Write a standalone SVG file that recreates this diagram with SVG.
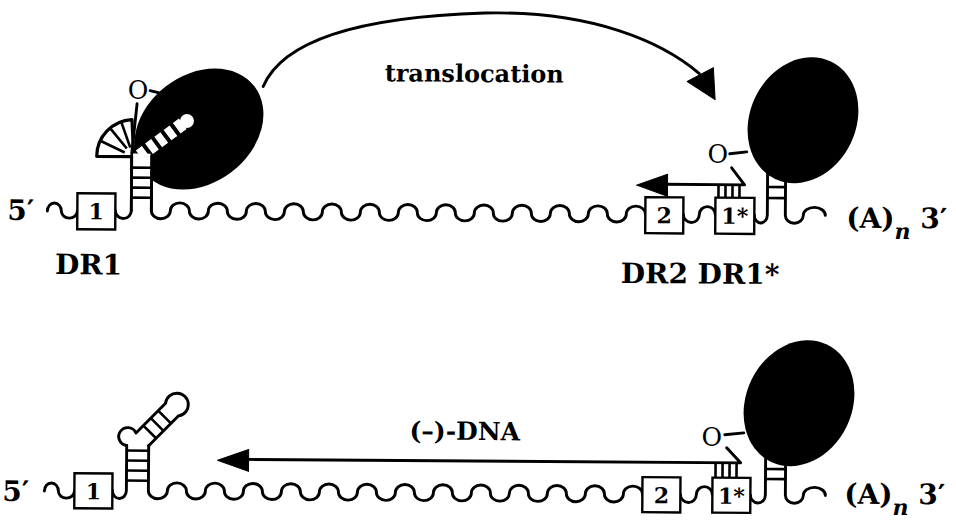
<svg xmlns="http://www.w3.org/2000/svg" width="956" height="520" viewBox="0 0 956 520">
<defs>
<style>
.ln{fill:none;stroke:#000;stroke-width:2.9;stroke-linecap:round;stroke-linejoin:round}
.rung{fill:none;stroke:#000;stroke-width:2.6}
.box{fill:#fff;stroke:#000;stroke-width:2.4}
.enz{fill:#000}
.t{font-family:"DejaVu Serif","Liberation Serif",serif;font-weight:bold;fill:#000}
.lab{font-size:28px}
.num{font-size:22px;text-anchor:middle}
.o{font-family:"DejaVu Serif","Liberation Serif",serif;font-size:25px;fill:#000;text-anchor:middle}
.head{fill:#000;stroke:#000;stroke-width:1;stroke-linejoin:round}
</style>
</defs>
<rect width="956" height="520" fill="#fff"/>
<g transform="rotate(0.4 478 260)">

<!-- upper panel: RNA template, DR1 stem-loop held by the enzyme -->
<g id="rna-top">
  <path class="ln" d="M47,214 a7,8 0 0 1 14,0 a8,7 0 0 0 16,0"/>
  <path class="ln" d="M115,213 a8,8 0 0 0 16,0 V160 M151,160 V213
    a9.5,8 0 0 0 19,0 a9.5,8 0 0 1 19,0 a9.5,8 0 0 0 19,0 a9.5,8 0 0 1 19,0
    a9.5,8 0 0 0 19,0 a9.5,8 0 0 1 19,0 a9.5,8 0 0 0 19,0 a9.5,8 0 0 1 19,0
    a9.5,8 0 0 0 19,0 a9.5,8 0 0 1 19,0 a9.5,8 0 0 0 19,0 a9.5,8 0 0 1 19,0
    a9.5,8 0 0 0 19,0 a9.5,8 0 0 1 19,0 a9.5,8 0 0 0 19,0 a9.5,8 0 0 1 19,0
    a9.5,8 0 0 0 19,0 a9.5,8 0 0 1 19,0 a9.5,8 0 0 0 19,0 a9.5,8 0 0 1 19,0
    a9.5,8 0 0 0 19,0 a9.5,8 0 0 1 19,0 a9.5,8 0 0 0 19,0 a9.5,8 0 0 1 19,0
    a9.5,8 0 0 0 19,0 a9.5,8 0 0 1 19,0"/>
  <path class="ln" d="M683,213 a8,8 0 0 0 16,0 a8,8 0 0 1 16,0"/>
  <path class="ln" d="M754,213 a6.5,8 0 0 0 13,0 V168 M785,168 V213 a9,8 0 0 0 18,0 a11,8 0 0 1 22,0"/>
  <path class="rung" d="M767,185 H785 M767,196 H785"/>
  <text class="t lab" x="7" y="223">5′</text>
  <text class="t lab" x="846" y="225">(A)<tspan font-style="italic" font-size="22" dy="11">n</tspan><tspan dy="-11"> 3′</tspan></text>
</g>

<g id="dr1-top">
  <rect class="box" x="77" y="196" width="38" height="36"/>
  <text class="t num" x="96" y="222">1</text>
  <text class="t lab" x="55" y="277">DR1</text>
</g>
<g id="dr2-top">
  <rect class="box" x="645" y="196" width="38" height="36"/>
  <text class="t num" x="664" y="222">2</text>
</g>
<g id="dr1star-top">
  <rect class="box" x="715" y="196" width="39" height="36"/>
  <text class="t num" x="734.5" y="222">1*</text>
</g>
<text class="t lab" x="621" y="282">DR2 DR1*</text>

<!-- enzyme bound to the 5' epsilon stem-loop -->
<g id="enzyme-left">
  <ellipse class="enz" cx="0" cy="0" rx="70" ry="54" transform="translate(198,131) rotate(-38)"/>
  <path d="M133,159 L96,159 A37,37 0 0 1 131,122 Z" fill="#fff" stroke="#000" stroke-width="3.2" stroke-linejoin="round"/>
  <path class="rung" d="M124,155 L99.5,143.4 M126,151 L109.2,130.7 M129.5,150 L120.3,124.4"/>
  <rect x="132" y="156" width="18" height="56" fill="#fff"/>
  <path class="ln" d="M131,158 V213 M151,158 V213"/>
  <path class="rung" d="M131,170 H151 M131,180 H151 M131,190 H151 M131,200 H151"/>
  <path d="M139,158 L183,125" stroke="#fff" stroke-width="13" stroke-dasharray="7.5 4" fill="none"/>
  <circle cx="186" cy="123" r="7" fill="#fff"/>
  <path class="ln" d="M136,106 L131,156"/>
  <path class="ln" d="M149,93 L162,96"/>
  <text class="o" x="137" y="101">O</text>
</g>

<g id="enzyme-right-top">
  <ellipse class="enz" cx="0" cy="0" rx="65" ry="53" transform="translate(802,118) rotate(-65)"/>
  <path class="ln" d="M729,152 L746,150"/>
  <text class="o" x="717" y="161">O</text>
  <path class="rung" d="M718,183 V196 M725,183 V196 M732,183 V196 M739,183 V196"/>
</g>

<!-- lower panel: minus-strand DNA synthesis -->
<g id="rna-bottom">
  <path class="ln" d="M46,494 a7,8 0 0 1 14,0 a8,7 0 0 0 16,0"/>
  <path class="ln" d="M114,493 a7,8 0 0 0 14,0 V448 M150,448 V493
    a9.5,8 0 0 0 19,0 a9.5,8 0 0 1 19,0 a9.5,8 0 0 0 19,0 a9.5,8 0 0 1 19,0
    a9.5,8 0 0 0 19,0 a9.5,8 0 0 1 19,0 a9.5,8 0 0 0 19,0 a9.5,8 0 0 1 19,0
    a9.5,8 0 0 0 19,0 a9.5,8 0 0 1 19,0 a9.5,8 0 0 0 19,0 a9.5,8 0 0 1 19,0
    a9.5,8 0 0 0 19,0 a9.5,8 0 0 1 19,0 a9.5,8 0 0 0 19,0 a9.5,8 0 0 1 19,0
    a9.5,8 0 0 0 19,0 a9.5,8 0 0 1 19,0 a9.5,8 0 0 0 19,0 a9.5,8 0 0 1 19,0
    a9.5,8 0 0 0 19,0 a9.5,8 0 0 1 19,0 a9.5,8 0 0 0 19,0 a9.5,8 0 0 1 19,0
    a9.5,8 0 0 0 19,0 a9.5,8 0 0 1 19,0"/>
  <path class="ln" d="M682,493 a8,8 0 0 0 16,0 a8,8 0 0 1 16,0"/>
  <path class="ln" d="M752,493 a7.5,8 0 0 0 15,0 V452 M787,452 V493 a9,8 0 0 0 18,0 a11,8 0 0 1 22,0"/>
  <path class="rung" d="M767,467 H787 M767,477 H787"/>
  <text class="t lab" x="4" y="504">5′</text>
  <text class="t lab" x="846" y="501">(A)<tspan font-style="italic" font-size="22" dy="11">n</tspan><tspan dy="-11"> 3′</tspan></text>
</g>

<g id="stem-loop-free">
  <path class="rung" d="M128,453 H150 M128,463 H150 M128,473 H150 M128,483 H150"/>
  <path class="ln" d="M128,448 A9,9 0 1 1 137.2,435.4 L166.6,405.4 A11.4,11.4 0 1 1 179.4,418 L150,448"/>
  <path class="rung" d="M157.4,440.5 L144.5,427.9 M164.7,433 L151.9,420.4 M172.1,425.5 L159.2,412.9"/>
</g>

<g id="dr1-bottom">
  <rect class="box" x="76" y="476" width="38" height="35"/>
  <text class="t num" x="95" y="502">1</text>
</g>
<g id="dr2-bottom">
  <rect class="box" x="644" y="476" width="38" height="35"/>
  <text class="t num" x="663" y="502">2</text>
</g>
<g id="dr1star-bottom">
  <rect class="box" x="714" y="476" width="38" height="35"/>
  <text class="t num" x="733" y="502">1*</text>
</g>

<g id="enzyme-right-bottom">
  <ellipse class="enz" cx="0" cy="0" rx="65" ry="53" transform="translate(800,401) rotate(-65)"/>
  <path class="ln" d="M726,433 L745,431"/>
  <text class="o" x="713" y="444">O</text>
  <path class="rung" d="M717,462 V476 M724,462 V476 M731,462 V476 M738,462 V476"/>
</g>

<!-- connectors -->
<g id="connectors">
  <path class="ln" stroke-width="3" d="M262,88 C280,45 350,18 483,13 C590,10 660,40 698,72"/>
  <polygon class="head" points="714,98 686,80 712,66"/>
  <text class="t" font-size="24" x="473" y="82" text-anchor="middle">translocation</text>

  <path class="ln" d="M731,166 L744,183 L664,183"/>
  <polygon class="head" points="636,184 667,173 667,195"/>

  <path class="ln" d="M728,446 L742,461 L248,461"/>
  <polygon class="head" points="219,462 250,451 250,473"/>
  <text class="t" font-size="25" x="466" y="440" text-anchor="middle">(–)-DNA</text>
</g>
</g>
</svg>
